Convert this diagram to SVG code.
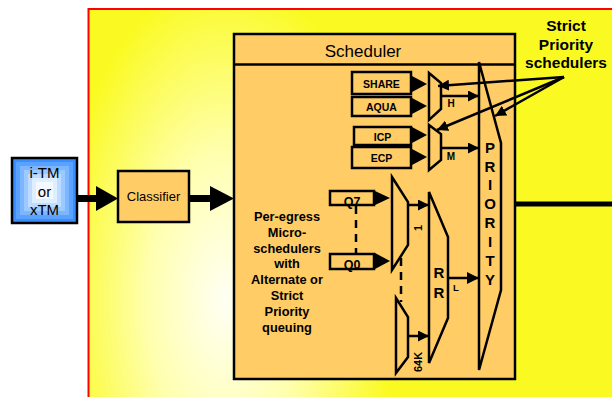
<svg xmlns="http://www.w3.org/2000/svg" width="612" height="397" viewBox="0 0 612 397">
<defs>
<radialGradient id="panelG" gradientUnits="userSpaceOnUse" cx="225" cy="300" r="170" gradientTransform="translate(225 300) scale(1 1.9) translate(-225 -300)">
<stop offset="0" stop-color="#FFFFF4"/>
<stop offset="0.45" stop-color="#FFFFB0"/>
<stop offset="1" stop-color="#FAFA22"/>
</radialGradient>
<marker id="ah" viewBox="0 0 10 10" refX="10" refY="5" markerWidth="11" markerHeight="11" markerUnits="userSpaceOnUse" orient="auto">
<path d="M0,0 L10,5 L0,10 z" fill="#000"/>
</marker>
<marker id="ahb" viewBox="0 0 12 12" refX="12" refY="6" markerWidth="12" markerHeight="12" markerUnits="userSpaceOnUse" orient="auto">
<path d="M0,0 L12,6 L0,12 z" fill="#000"/>
</marker>
</defs>
<style>
.box{fill:#FFCC66;stroke:#000;stroke-width:2.5}
.shape{fill:#FFCC66;stroke:#000;stroke-width:2.5;stroke-linejoin:miter}
.tri{fill:#000}
.lbl{font-family:"Liberation Sans",Arial,sans-serif;font-weight:bold;fill:#000;text-anchor:middle}
.reg{font-family:"Liberation Sans",Arial,sans-serif;fill:#000;text-anchor:middle}
.ln{stroke:#000;stroke-width:2.5;fill:none}
.dash{stroke:#000;stroke-width:2.5;fill:none;stroke-dasharray:8,6}
</style>

<g id="panel">
<rect x="88.5" y="9" width="530" height="395" fill="url(#panelG)" stroke="#FF0000" stroke-width="2"/>
</g>

<g id="strict-label">
<text class="lbl" x="566" y="31" font-size="15.5">Strict</text>
<text class="lbl" x="566" y="49.5" font-size="15.5">Priority</text>
<text class="lbl" x="566" y="68" font-size="15.5">schedulers</text>
</g>

<g id="itm">
<rect x="12" y="158" width="65" height="65" fill="#3A8EFF" stroke="#000" stroke-width="2.5"/>
<rect x="16" y="162" width="57" height="57" fill="#5AA2FF"/>
<rect x="20" y="166" width="49" height="49" fill="#7BB6FF"/>
<rect x="24" y="170" width="41" height="41" fill="#9CC9FF"/>
<rect x="28" y="174" width="33" height="33" fill="#BDDCFF"/>
<rect x="32" y="178" width="25" height="25" fill="#DDEEFF"/>
<rect x="36" y="182" width="17" height="17" fill="#F4F9FF"/>
<text class="reg" x="44.5" y="178" font-size="15">i-TM</text>
<text class="reg" x="44.5" y="197" font-size="15">or</text>
<text class="reg" x="44.5" y="215" font-size="15">xTM</text>
</g>

<g id="classifier">
<rect class="box" x="118" y="171" width="71" height="51"/>
<text class="reg" x="153.5" y="201" font-size="13">Classifier</text>
</g>

<g id="scheduler">
<rect class="box" x="234" y="34" width="281" height="345"/>
<line class="ln" x1="234" y1="64.5" x2="515" y2="64.5"/>
<text class="reg" x="363" y="57" font-size="17">Scheduler</text>
</g>

<g id="share">
<rect class="box" x="352" y="72" width="59" height="22"/>
<text class="lbl" x="381.5" y="87.5" font-size="10.5">SHARE</text>
</g>
<g id="aqua">
<rect class="box" x="352" y="97" width="59" height="19"/>
<text class="lbl" x="381.5" y="110.5" font-size="10.5">AQUA</text>
</g>
<g id="icp">
<rect class="box" x="354" y="127" width="57" height="18"/>
<text class="lbl" x="382.5" y="140.5" font-size="10.5">ICP</text>
</g>
<g id="ecp">
<rect class="box" x="352" y="147" width="59" height="21"/>
<text class="lbl" x="381.5" y="161.5" font-size="10.5">ECP</text>
</g>

<g id="mux-h">
<path class="shape" d="M429,73 L441,83 L441,109 L429,120 Z"/>
<text class="lbl" x="451" y="107" font-size="10">H</text>
</g>
<g id="mux-m">
<path class="shape" d="M429,125 L441,134 L441,160 L429,170 Z"/>
<text class="lbl" x="451" y="160" font-size="10">M</text>
</g>

<g id="priority">
<path class="shape" d="M479,62 L501,143 L501,290 L479,370 Z"/>
<text class="lbl" x="490" y="153" font-size="15">P</text>
<text class="lbl" x="490" y="172" font-size="15">R</text>
<text class="lbl" x="490" y="190" font-size="15">I</text>
<text class="lbl" x="490" y="209" font-size="15">O</text>
<text class="lbl" x="490" y="228" font-size="15">R</text>
<text class="lbl" x="490" y="247" font-size="15">I</text>
<text class="lbl" x="490" y="266" font-size="15">T</text>
<text class="lbl" x="490" y="285" font-size="15">Y</text>
</g>

<g id="per-egress-label">
<text class="lbl" x="287" y="221" font-size="12.8">Per-egress</text>
<text class="lbl" x="287" y="237" font-size="12.8">Micro-</text>
<text class="lbl" x="287" y="253" font-size="12.8">schedulers</text>
<text class="lbl" x="287" y="268" font-size="12.8">with</text>
<text class="lbl" x="287" y="284" font-size="12.8">Alternate or</text>
<text class="lbl" x="287" y="300" font-size="12.8">Strict</text>
<text class="lbl" x="287" y="316" font-size="12.8">Priority</text>
<text class="lbl" x="287" y="332" font-size="12.8">queuing</text>
</g>

<g id="q7">
<rect class="box" x="330" y="191" width="44" height="14"/>
<text class="lbl" x="352" y="206" font-size="12.5">Q7</text>
</g>
<g id="q0">
<rect class="box" x="330" y="254" width="44" height="15"/>
<text class="lbl" x="352" y="269" font-size="12.5">Q0</text>
</g>

<g id="mux-1">
<path class="shape" d="M392,177 L408,202 L408,245 L392,270 Z"/>
<text class="lbl" font-size="11" transform="translate(422 228) rotate(-90)">1</text>
</g>
<g id="mux-64k">
<path class="shape" d="M396,298 L408,317 L408,357 L396,373 Z"/>
<text class="lbl" font-size="11" transform="translate(422 362) rotate(-90)">64K</text>
</g>

<g id="rr">
<path class="shape" d="M429,192 L448,237 L448,318 L429,363 Z"/>
<text class="lbl" x="439" y="278" font-size="15">R</text>
<text class="lbl" x="439" y="298" font-size="15">R</text>
<text class="lbl" x="456" y="291" font-size="9.5">L</text>
</g>

<g id="connectors">
<line x1="77" y1="198.5" x2="97" y2="198.5" stroke="#000" stroke-width="7"/>
<path class="tri" d="M96,186 L118,198.5 L96,211 Z"/>
<line x1="189" y1="198.5" x2="211" y2="198.5" stroke="#000" stroke-width="7"/>
<path class="tri" d="M210,186 L234,198.5 L210,211 Z"/>
<line x1="515" y1="204" x2="612" y2="204" stroke="#000" stroke-width="5"/>
<path class="tri" d="M412,76 L427,84 L412,92 Z"/>
<path class="tri" d="M412,98 L427,106 L412,114 Z"/>
<path class="tri" d="M412,127 L427,135 L412,143 Z"/>
<path class="tri" d="M412,149 L427,157 L412,165 Z"/>
<path class="tri" d="M375,191 L390,198 L375,205 Z"/>
<path class="tri" d="M375,253 L390,261 L375,269 Z"/>
<line class="ln" x1="441" y1="96" x2="479" y2="96" marker-end="url(#ah)"/>
<line class="ln" x1="441" y1="148" x2="479" y2="148" marker-end="url(#ah)"/>
<line class="ln" x1="408" y1="205" x2="429" y2="205" marker-end="url(#ah)"/>
<line class="ln" x1="408" y1="336" x2="429" y2="336" marker-end="url(#ah)"/>
<line class="ln" x1="448" y1="278" x2="479" y2="278" marker-end="url(#ahb)"/>
<line class="dash" x1="356" y1="206" x2="356" y2="253"/>
<line class="dash" x1="401" y1="258" x2="401" y2="302"/>
<line class="ln" x1="564" y1="77" x2="438" y2="86" marker-end="url(#ah)"/>
<line class="ln" x1="564" y1="77" x2="495" y2="116" marker-end="url(#ah)"/>
<line class="ln" x1="564" y1="77" x2="437" y2="130" marker-end="url(#ah)"/>
</g>
</svg>
